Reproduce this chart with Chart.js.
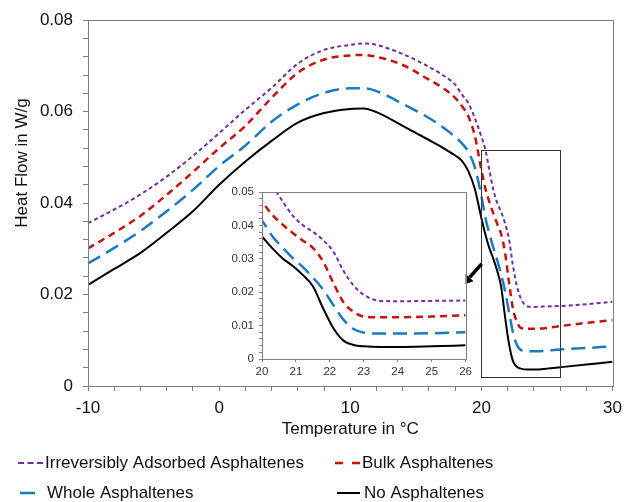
<!DOCTYPE html>
<html>
<head>
<meta charset="utf-8">
<script src="https://cdn.jsdelivr.net/npm/chart.js@4.4.0/dist/chart.umd.min.js"></script>
<style>
    html, body { margin: 0; padding: 0; background: #fff; }
    #wrap { position: relative; width: 629px; height: 502px; }
    #main { position: absolute; left: 0; top: 0; width: 629px; height: 502px; }
    #inset { position: absolute; left: 215px; top: 180px; width: 260px; height: 205px; }
</style>
</head>
<body>
<div id="wrap">
    <canvas id="main" width="629" height="502"></canvas>
    <canvas id="inset" width="260" height="205"></canvas>
</div>
<script>
// temperature in °C (x values shared by every curve)
const temperature = [-10, -8, -6, -4, -2, 0, 2, 4, 6, 8,
    10, 11, 12, 14, 16, 17, 18, 18.5, 19, 19.5,
    20, 20.3, 20.6, 20.9, 21.2, 21.5, 21.8, 22.1, 22.4, 22.7,
    23, 23.5, 24, 25, 26, 28, 30];

// heat flow in W/g
const irreversiblyAdsorbed = [0.0356, 0.0386, 0.0419, 0.0458, 0.0503, 0.0553, 0.0604, 0.0652, 0.0705, 0.0735,
    0.0746, 0.0749, 0.0746, 0.0726, 0.0698, 0.0681, 0.0659, 0.0638, 0.0619, 0.0586,
    0.0545, 0.0517, 0.0473, 0.0430, 0.0401, 0.0381, 0.0356, 0.0322, 0.0264, 0.0220,
    0.0192, 0.0174, 0.0173, 0.0174, 0.0175, 0.0179, 0.0184];
const bulkAsphaltenes = [0.0301, 0.0335, 0.0372, 0.0418, 0.0468, 0.0520, 0.0569, 0.0630, 0.0685, 0.0714,
    0.0723, 0.0724, 0.0720, 0.0702, 0.0670, 0.0653, 0.0630, 0.0613, 0.0590, 0.0547,
    0.0472, 0.0432, 0.0403, 0.0378, 0.0355, 0.0333, 0.0292, 0.0228, 0.0170, 0.0141,
    0.0127, 0.0125, 0.0125, 0.0127, 0.0131, 0.0138, 0.0144];
const wholeAsphaltenes = [0.0268, 0.0302, 0.0339, 0.0382, 0.0429, 0.0481, 0.0526, 0.0578, 0.0616, 0.0641,
    0.0651, 0.0651, 0.0645, 0.0617, 0.0586, 0.0567, 0.0545, 0.0531, 0.0512, 0.0478,
    0.0415, 0.0368, 0.0334, 0.0303, 0.0276, 0.0244, 0.0208, 0.0162, 0.0118, 0.0090,
    0.0079, 0.0076, 0.0076, 0.0077, 0.0080, 0.0083, 0.0087];
const noAsphaltenes = [0.0221, 0.0256, 0.0291, 0.0335, 0.0382, 0.0440, 0.0491, 0.0536, 0.0576, 0.0597,
    0.0606, 0.0607, 0.0599, 0.0569, 0.0538, 0.0522, 0.0504, 0.0493, 0.0470, 0.0431,
    0.0367, 0.0332, 0.0302, 0.0279, 0.0252, 0.0218, 0.0152, 0.0093, 0.0055, 0.0042,
    0.0038, 0.0036, 0.0036, 0.0038, 0.0041, 0.0047, 0.0053];

const seriesLabels = ['Irreversibly Adsorbed Asphaltenes', 'Bulk Asphaltenes', 'Whole Asphaltenes', 'No Asphaltenes'];

// zoomed region shown in the inset (data units)
const zoomBox = { xMin: 20, xMax: 26, yMin: 0.002, yMax: 0.0516 };

const FONT = 'Liberation Sans, Arial, sans-serif';
const AXIS = '#7f7f7f';

const styles = [
    { color: '#7030a0', width: 2, dash: [4, 3] },
    { color: '#c81010', width: 2.5, dash: [7, 5] },
    { color: '#1a7ac4', width: 2.5, dash: [14, 7] },
    { color: '#000000', width: 2, dash: [] }
];
const values = [irreversiblyAdsorbed, bulkAsphaltenes, wholeAsphaltenes, noAsphaltenes];

function makeDatasets() {
    return values.map(function (ys, i) {
        return {
            label: seriesLabels[i],
            data: temperature.map(function (t, j) { return { x: t, y: ys[j] }; }),
            borderColor: styles[i].color,
            borderWidth: styles[i].width,
            borderDash: styles[i].dash,
            pointRadius: 0,
            fill: false,
            cubicInterpolationMode: 'monotone'
        };
    });
}

// box around the plot area
const frame = {
    id: 'frame',
    beforeDatasetsDraw(chart) {
        const a = chart.chartArea, ctx = chart.ctx;
        if (chart.canvas.id === 'inset') {
            ctx.save();
            ctx.fillStyle = '#fff';
            ctx.fillRect(a.left, a.top, a.right - a.left, a.bottom - a.top);
            ctx.restore();
        }
    },
    afterDraw(chart) {
        const a = chart.chartArea, ctx = chart.ctx;
        ctx.save();
        ctx.strokeStyle = AXIS;
        ctx.lineWidth = 1;
        ctx.strokeRect(Math.round(a.left) + 0.5, Math.round(a.top) + 0.5,
            Math.round(a.right - a.left), Math.round(a.bottom - a.top));
        ctx.restore();
    }
};

// y title, zoom rectangle, arrow and legend of the main chart
const extras = {
    id: 'extras',
    afterDraw(chart) {
        const ctx = chart.ctx, xs = chart.scales.x, ys = chart.scales.y;
        ctx.save();

        ctx.translate(22, 163);
        ctx.rotate(-Math.PI / 2);
        ctx.font = '17px ' + FONT;
        ctx.fillStyle = '#111';
        ctx.textAlign = 'center';
        ctx.textBaseline = 'middle';
        ctx.fillText('Heat Flow in W/g', 0, 0);
        ctx.setTransform(1, 0, 0, 1, 0, 0);

        const l = xs.getPixelForValue(zoomBox.xMin), r = xs.getPixelForValue(zoomBox.xMax);
        const t = ys.getPixelForValue(zoomBox.yMax), b = ys.getPixelForValue(zoomBox.yMin);
        ctx.strokeStyle = '#333';
        ctx.lineWidth = 1;
        ctx.strokeRect(Math.round(l) + 0.5, Math.round(t) + 0.5, Math.round(r - l), Math.round(b - t));

        // arrow pointing to the inset
        const x0 = xs.getPixelForValue(20.02), y0 = ys.getPixelForValue(0.0267);
        const x1 = xs.getPixelForValue(18.58), y1 = ys.getPixelForValue(0.0221);
        const ang = Math.atan2(y1 - y0, x1 - x0);
        const hl = 10, hw = 5.5;
        const bx = x1 - hl * Math.cos(ang), by = y1 - hl * Math.sin(ang);
        ctx.strokeStyle = '#000';
        ctx.fillStyle = '#000';
        ctx.lineWidth = 3.5;
        ctx.beginPath();
        ctx.moveTo(x0, y0);
        ctx.lineTo(bx, by);
        ctx.stroke();
        ctx.beginPath();
        ctx.moveTo(x1, y1);
        ctx.lineTo(bx + hw * Math.sin(ang), by - hw * Math.cos(ang));
        ctx.lineTo(bx - hw * Math.sin(ang), by + hw * Math.cos(ang));
        ctx.closePath();
        ctx.fill();

        // legend, two columns
        const items = [
            { x: 18, y: 463, len: 25, dash: [6, 3.5] },
            { x: 335, y: 463, len: 25, dash: [8, 9] },
            { x: 20, y: 493, len: 15, dash: [] },
            { x: 337, y: 493, len: 23, dash: [] }
        ];
        ctx.font = '17px ' + FONT;
        ctx.textAlign = 'left';
        ctx.textBaseline = 'middle';
        items.forEach(function (it, i) {
            ctx.strokeStyle = styles[i].color;
            ctx.lineWidth = styles[i].width;
            ctx.setLineDash(it.dash);
            ctx.beginPath();
            ctx.moveTo(it.x, it.y);
            ctx.lineTo(it.x + it.len, it.y);
            ctx.stroke();
            ctx.setLineDash([]);
            ctx.fillStyle = '#111';
            ctx.fillText(seriesLabels[i], it.x + 27, it.y);
        });
        ctx.restore();
    }
};

new Chart(document.getElementById('main'), {
    type: 'line',
    data: { datasets: makeDatasets() },
    options: {
        responsive: false,
        animation: false,
        layout: { padding: { left: 0, right: 12, top: 20, bottom: 58 } },
        plugins: { legend: { display: false }, tooltip: { enabled: false } },
        scales: {
            x: {
                type: 'linear', min: -10, max: 30,
                ticks: {
                    stepSize: 2, autoSkip: false, maxRotation: 0, padding: 7,
                    color: '#111', font: { family: FONT, size: 17 },
                    callback: function (v) { return v % 10 === 0 ? String(v) : ''; }
                },
                grid: { drawOnChartArea: false, tickLength: 5, color: AXIS },
                border: { color: AXIS },
                title: { display: true, text: 'Temperature in °C', color: '#111', font: { family: FONT, size: 17 }, padding: { top: 4, bottom: 4 } },
                afterFit: function (s) { s.height = 58; }
            },
            y: {
                min: 0, max: 0.08,
                ticks: {
                    stepSize: 0.004, autoSkip: false, padding: 10,
                    color: '#111', font: { family: FONT, size: 17 },
                    callback: function (v) { return Math.round(v * 1000) % 20 === 0 ? String(v) : ''; }
                },
                grid: { drawOnChartArea: false, tickLength: 5, color: AXIS },
                border: { color: AXIS },
                afterFit: function (s) { s.width = 88; }
            }
        }
    },
    plugins: [frame, extras]
});

new Chart(document.getElementById('inset'), {
    type: 'line',
    data: { datasets: makeDatasets() },
    options: {
        responsive: false,
        animation: false,
        layout: { padding: { left: 0, right: 9, top: 12, bottom: 0 } },
        plugins: { legend: { display: false }, tooltip: { enabled: false } },
        scales: {
            x: {
                type: 'linear', min: 20, max: 26,
                ticks: {
                    stepSize: 1, autoSkip: false, maxRotation: 0, padding: 3,
                    color: '#333', font: { family: FONT, size: 11.5 }
                },
                grid: { drawOnChartArea: false, tickLength: 3, color: AXIS },
                border: { color: AXIS },
                afterFit: function (s) { s.height = 26; }
            },
            y: {
                min: 0, max: 0.05,
                ticks: {
                    stepSize: 0.002, autoSkip: false, padding: 5,
                    color: '#333', font: { family: FONT, size: 11.5 },
                    callback: function (v) { return Math.round(v * 1000) % 10 === 0 ? String(v) : ''; }
                },
                grid: { drawOnChartArea: false, tickLength: 3, color: AXIS },
                border: { color: AXIS },
                afterFit: function (s) { s.width = 47; }
            }
        }
    },
    plugins: [frame]
});
</script>
</body>
</html>
